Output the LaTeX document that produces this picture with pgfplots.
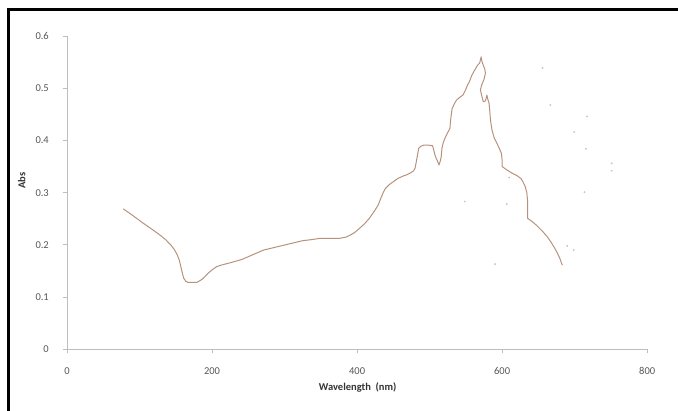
\documentclass[border=0pt]{standalone}
\usepackage{pgfplots}
\pgfplotsset{compat=1.18}
\usepackage{fontspec}
\setmainfont{Carlito}
\definecolor{curve}{RGB}{182,146,124}
\definecolor{axgray}{RGB}{190,190,190}
\definecolor{lblgray}{RGB}{85,85,85}
\definecolor{speck}{RGB}{205,195,190}
\begin{document}
\begin{tikzpicture}[x=1pt,y=1pt]
\path[use as bounding box] (0,0) rectangle (678,411);
\draw[line width=3pt,black] (8,0) -- (8,401.5) -- (678,401.5);
\begin{axis}[
  at={(67pt,61.7pt)}, anchor=south west,
  scale only axis, width=580.2pt, height=313.3pt,
  xmin=0, xmax=800, ymin=0, ymax=0.6,
  axis x line=bottom, axis y line=left,
  axis line style={axgray, line width=0.9pt, -},
  xtick={0,200,400,600,800},
  ytick={0,0.1,0.2,0.3,0.4,0.5,0.6},
  yticklabels={0,0.1,0.2,0.3,0.4,0.5,0.6},
  tick align=outside, major tick length=4pt,
  tick style={axgray, line width=0.9pt},
  /pgf/number format/assume math mode=true,
  ticklabel style={font=\fontsize{10.5}{12}\selectfont, text=lblgray, inner sep=0pt},
  xticklabel style={anchor=center, yshift=-17.6pt},
  yticklabel style={anchor=east, xshift=-14pt},
  xlabel={Wavelength\ \ (nm)},
  ylabel={Abs},
  xlabel style={font=\bfseries\fontsize{10.5}{12}\selectfont, text=black!80, at={(axis description cs:0.501,-0.122)}, anchor=center},
  ylabel style={font=\bfseries\fontsize{10.5}{12}\selectfont, text=black!80, at={(axis description cs:-0.078,0.538)}, anchor=center, rotate=0},
  clip=true,
]
\addplot[curve, line width=1pt, line join=round, mark=none] coordinates {
(77.5,0.269) (90,0.257) (104,0.2425) (116,0.231) (128,0.219) (136,0.210) (143,0.200) (148,0.191) (152,0.181) (155,0.170) (157,0.158) (159,0.146) (161,0.136) (164,0.130) (167,0.128) (173,0.128) (179,0.128) (184,0.132) (188,0.136) (194,0.145) (200,0.152) (206,0.158) (212,0.161) (226,0.166) (241,0.172) (256,0.181) (271,0.190) (286,0.195) (301,0.200) (313,0.204) (325,0.208) (337,0.210) (349,0.2125) (362,0.2125) (376,0.2125) (385,0.215) (391,0.219) (397,0.224) (402,0.230) (410,0.240) (417,0.251) (423,0.263) (429,0.276) (433,0.290) (436,0.300) (439,0.308) (444,0.315) (450,0.321) (456,0.327) (462,0.331) (468,0.334) (474,0.338) (478,0.342) (480,0.347) (482,0.362) (485,0.385) (488,0.389) (492,0.391) (498,0.391) (504,0.390) (506,0.380) (508,0.369) (511,0.360) (513,0.353) (515,0.362) (516,0.369) (517,0.385) (519,0.397) (522,0.407) (525,0.415) (528,0.423) (529,0.440) (531,0.461) (534,0.470) (537,0.477) (541,0.482) (546,0.487) (549,0.495) (552,0.505) (555,0.513) (558,0.524) (561,0.532) (564,0.539) (566,0.544) (569,0.548) (571,0.560) (572,0.552) (574,0.544) (576,0.537) (577,0.529) (575,0.517) (572,0.507) (570,0.497) (572,0.485) (574,0.474) (577,0.476) (579,0.487) (580,0.480) (582,0.471) (583,0.455) (584,0.438) (586,0.420) (589,0.405) (593,0.394) (596,0.385) (599,0.375) (600,0.362) (600,0.350) (606,0.344) (614,0.337) (620,0.333) (626,0.327) (629,0.320) (632,0.311) (634,0.300) (635,0.286) (635,0.268) (635,0.251) (641,0.245) (647,0.238) (655,0.227) (662,0.216) (668,0.204) (674,0.190) (679,0.176) (683,0.161)
};
\addplot[only marks, mark=*, mark size=0.7pt, speck, draw=none] coordinates {
(655.7,0.539) (666.5,0.468) (717.1,0.446) (699.3,0.416) (715.4,0.384) (751.1,0.356) (751.1,0.342) (713.6,0.301) (548.4,0.283) (606.3,0.278) (689.7,0.198) (698.7,0.190) (590.2,0.163)
};
\addplot[only marks, mark=*, mark size=0.7pt, curve!70, draw=none] coordinates {(609.8,0.329)};
\end{axis}
\end{tikzpicture}
\end{document}
